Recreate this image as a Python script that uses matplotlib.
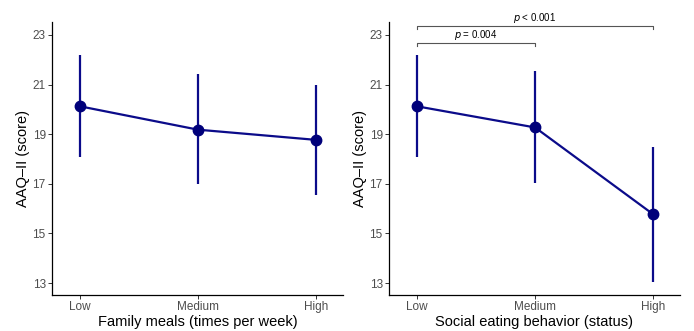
import matplotlib.pyplot as plt
import numpy as np

plt.rcParams["font.family"] = ["Liberation Sans", "DejaVu Sans"]

levels = ["Low", "Medium", "High"]

family_mean = [20.12, 19.18, 18.77]
family_lo = [18.08, 16.98, 16.56]
family_hi = [22.19, 21.43, 20.98]

social_mean = [20.12, 19.27, 15.78]
social_lo = [18.07, 17.02, 13.03]
social_hi = [22.19, 21.55, 18.50]

# bracket annotations on the social panel: (from, to, height, label)
brackets = [
    (0, 2, 23.34, "$p$ < 0.001"),
    (0, 1, 22.66, "$p$ = 0.004"),
]

LINE = "#0b0b8a"
POINT = "#00007a"
TICK_GREY = "#4d4d4d"


def draw_panel(ax, mean, lo, hi, xlabel):
    x = np.arange(len(levels))
    mean = np.asarray(mean)
    ax.vlines(x, lo, hi, color=LINE, lw=1.6, zorder=2)
    ax.plot(x, mean, color=LINE, lw=1.6, zorder=3)
    ax.plot(x, mean, "o", color=POINT, ms=7.5, zorder=4)
    ax.set_xlim(-0.24, 2.23)
    ax.set_ylim(12.52, 23.52)
    ax.set_yticks([13, 15, 17, 19, 21, 23])
    ax.set_xticks(x)
    ax.set_xticklabels(levels)
    ax.tick_params(colors="#333333", labelsize=8.5, length=3, width=0.7,
                   labelcolor=TICK_GREY, pad=1.5)
    for side in ("top", "right"):
        ax.spines[side].set_visible(False)
    for side in ("left", "bottom"):
        ax.spines[side].set_linewidth(0.9)
    ax.set_xlabel(xlabel, fontsize=10.5, labelpad=1)
    ax.set_ylabel("AAQ\u2013II (score)", fontsize=10.5, labelpad=2)


fig = plt.figure(figsize=(6.94, 3.31), dpi=100)
ax1 = fig.add_axes([0.0749, 0.1088, 0.4193, 0.8248])
ax2 = fig.add_axes([0.5605, 0.1088, 0.4193, 0.8248])

draw_panel(ax1, family_mean, family_lo, family_hi, "Family meals (times per week)")
draw_panel(ax2, social_mean, social_lo, social_hi, "Social eating behavior (status)")

for a, b, y, label in brackets:
    ax2.plot([a, a, b, b], [y - 0.12, y, y, y - 0.12], color="#555555", lw=0.8, clip_on=False)
    ax2.text((a + b) / 2, y + 0.06, label, ha="center", va="bottom", fontsize=7)

fig.savefig("out.png", dpi=100)
